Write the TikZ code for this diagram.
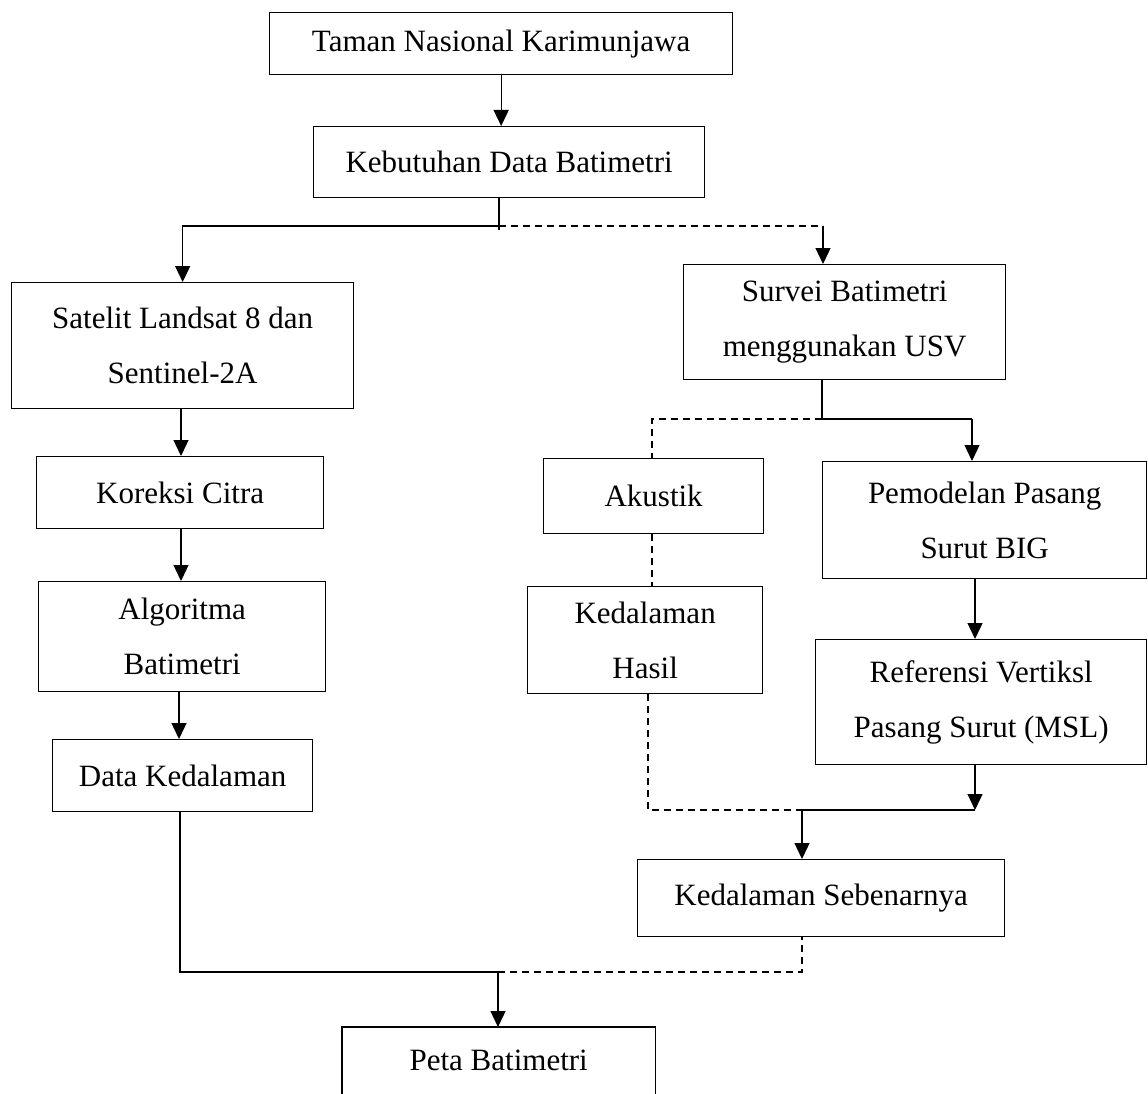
\documentclass[tikz,border=0pt]{standalone}
\usepackage{fontspec}
\setmainfont{Liberation Serif}
\usetikzlibrary{arrows.meta}
\begin{document}
\begin{tikzpicture}[x=1pt,y=-1pt,
  box/.style={draw, line width=1.3pt, align=center, inner sep=0pt, anchor=north west, font=\fontsize{31}{55}\selectfont},
  plain/.style={align=center, inner sep=0pt, anchor=north west, font=\fontsize{31}{55}\selectfont},
  conn/.style={line width=1.3pt},
  arr/.style={line width=1.3pt, -{Triangle[width=15pt,length=16pt]}},
  dsh/.style={line width=1.3pt, dash pattern=on 7pt off 5pt},
  thk/.style={line width=2.6pt}]
\useasboundingbox (0,0) rectangle (1148,1094);
\fill[white] (0,0) rectangle (1148,1094);

% boxes
\node[box, minimum width=463pt, minimum height=62pt] (taman) at (269,12) {Taman Nasional Karimunjawa};
\node[box, minimum width=391pt, minimum height=71pt] (keb) at (313,126) {Kebutuhan Data Batimetri};
\node[box, minimum width=342pt, minimum height=126pt] (sat) at (11,282) {Satelit Landsat 8 dan\\Sentinel-2A};
\node[box, minimum width=322pt, minimum height=115pt] (surv) at (683,264) {Survei Batimetri\\menggunakan USV};
\node[box, minimum width=287pt, minimum height=72pt] (kor) at (36,456) {Koreksi Citra};
\node[box, minimum width=287pt, minimum height=110pt] (alg) at (38,581) {Algoritma\\Batimetri};
\node[box, minimum width=260pt, minimum height=72pt] (dk) at (52,739) {Data Kedalaman};
\node[box, minimum width=220pt, minimum height=75pt] (aku) at (543,458) {Akustik};
\node[box, minimum width=324pt, minimum height=117pt] (pem) at (822,461) {Pemodelan Pasang\\Surut BIG};
\node[box, minimum width=235pt, minimum height=107pt] (has) at (527,586) {Kedalaman\\Hasil};
\node[box, minimum width=331pt, minimum height=125pt] (ref) at (815,639) {Referensi Vertiksl\\Pasang Surut (MSL)};
\node[box, minimum width=367pt, minimum height=77pt] (ks) at (637,859) {Kedalaman Sebenarnya};
\node[plain, minimum width=313pt, minimum height=67pt] (peta) at (342,1027) {Peta Batimetri};
\draw[conn] (peta.south west) -- (peta.north west) -- (peta.north east) -- (peta.south east);

% top
\draw[arr] (taman.south) -- (taman.south |- keb.north);
\coordinate (j1) at (499,226);
\coordinate (j1r) at (823,226);
\draw[conn] (j1 |- keb.south) -- ([yshift=-4pt]j1);
\draw[arr] (j1) -| (sat.north);
\draw[dsh] (j1) -- (j1r);
\draw[arr] (j1r) -- (j1r |- surv.north);

% left chain
\coordinate (cl) at (181,0);
\coordinate (cl2) at (179,0);
\draw[arr] (sat.south -| cl) -- (kor.north -| cl);
\draw[arr] (kor.south -| cl) -- (alg.north -| cl);
\draw[arr] (alg.south -| cl2) -- (dk.north -| cl2);

% survei split
\coordinate (j2) at (822,419);
\coordinate (j2r) at (972,419);
\coordinate (j2l) at (652,419);
\draw[conn] (j2 |- surv.south) -- (j2);
\draw[thk] (j2) -- (j2r);
\draw[arr] (j2r) -- (j2r |- pem.north);
\draw[dsh] (j2) -- (j2l) -- (j2l |- aku.north);
\draw[dsh] (j2l |- aku.south) -- (j2l |- has.north);

% right chain
\coordinate (a3) at (975,0);
\draw[arr] (pem.south -| a3) -- (ref.north -| a3);

% lower split
\coordinate (j3) at (802,810);
\coordinate (j3l) at (648,810);
\coordinate (j3r) at (975,810);
\draw[arr] (ref.south -| j3r) -- (j3r);
\draw[dsh] (j3l |- has.south) -- (j3l) -- (j3);
\draw[thk] (j3) -- (j3r);
\draw[arr] (j3) -- (j3 |- ks.north);

% bottom join
\coordinate (j4) at (498,972);
\coordinate (j4l) at (180,972);
\coordinate (j4r) at (802,972);
\draw[conn] (dk.south -| j4l) -- (j4l) -- (j4);
\draw[dsh] (j4) -- (j4r) -- (j4r |- ks.south);
\draw[arr] (j4) -- (j4 |- peta.north);
\end{tikzpicture}
\end{document}
